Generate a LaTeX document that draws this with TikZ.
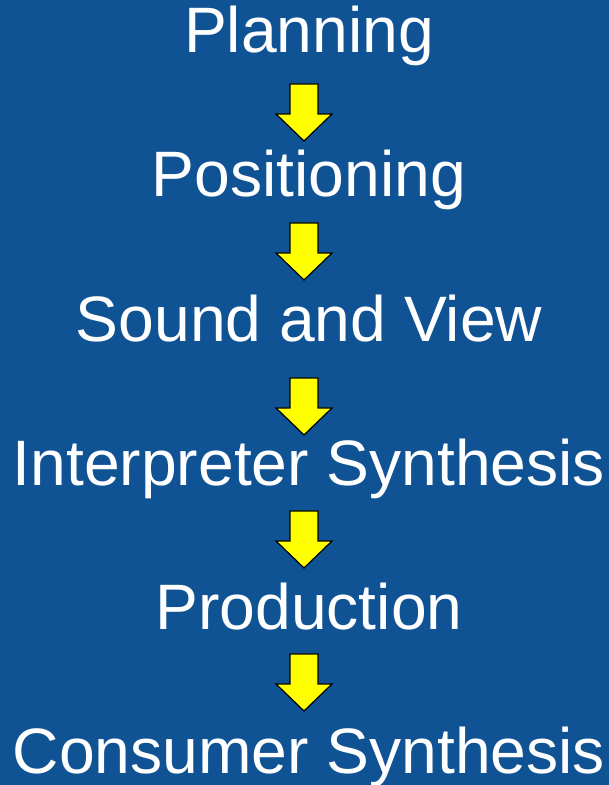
\documentclass[tikz,border=0pt]{standalone}
\usepackage{fontspec}
\setmainfont{Liberation Sans}
\usetikzlibrary{calc}
\definecolor{bgblue}{RGB}{16,83,148}
\definecolor{arrowyellow}{RGB}{255,255,0}
\tikzset{
  lbl/.style={text=white, inner sep=0pt, anchor=base, font=\fontsize{64.2}{70}\selectfont},
  blockarrow/.style={fill=arrowyellow, draw=black, line width=1.2pt, line join=miter},
}
\begin{document}
\begin{tikzpicture}[x=1pt,y=1pt]
\fill[bgblue] (0,0) rectangle (609,785);
\useasboundingbox (0,0) rectangle (609,785);
\node[lbl] (t1) at (309,732) {Planning};
\node[lbl] (t2) at (309,588) {Positioning};
\node[lbl] (t3) at (309,443) {Sound and View};
\node[lbl] (t4) at (309,299.5) {Interpreter Synthesis};
\node[lbl] (t5) at (309,155) {Production};
\node[lbl] (t6) at (309,12) {Consumer Synthesis};
\coordinate (a1) at (304,701);
\coordinate (a2) at (304,562);
\coordinate (a3) at (304,407);
\coordinate (a4) at (304,274);
\coordinate (a5) at (304,131);
\foreach \a in {a1,a2,a3,a4,a5}{
  \draw[blockarrow] (\a) ++(-14,0) -- ++(28,0) -- ++(0,-30) -- ++(14,0) -- ++(-28,-27) -- ++(-28,27) -- ++(14,0) -- cycle;
}
\end{tikzpicture}
\end{document}
